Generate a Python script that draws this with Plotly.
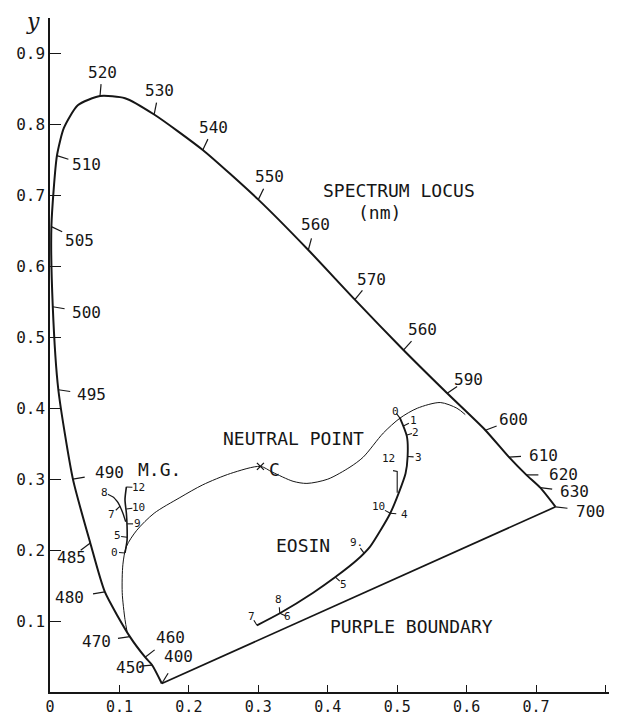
import numpy as np
import plotly.graph_objects as go

# Spectrum locus: chromaticity (x, y) at each wavelength, nm
locus_nm = [400, 450, 460, 470, 480, 485, 490, 495, 500, 505, 510, 513, 516, 520,
            525, 530, 540, 550, 560, 570, 580, 590, 600, 610, 620, 630, 700]
locus_x = [0.161, 0.147, 0.137, 0.115, 0.079, 0.058, 0.033, 0.012, 0.004, 0.002,
           0.010, 0.020, 0.040, 0.072, 0.108, 0.150, 0.220, 0.300, 0.372, 0.439,
           0.509, 0.572, 0.627, 0.661, 0.686, 0.706, 0.728]
locus_y = [0.012, 0.038, 0.049, 0.078, 0.141, 0.210, 0.300, 0.426, 0.543, 0.656,
           0.756, 0.795, 0.827, 0.840, 0.837, 0.814, 0.764, 0.694, 0.623, 0.553,
           0.482, 0.421, 0.369, 0.331, 0.306, 0.288, 0.261]

# Wavelengths marked on the locus and the figure printed beside each one
tick_nm = [400, 450, 460, 470, 480, 485, 490, 495, 500, 505, 510, 520, 530,
           540, 550, 560, 570, 580, 590, 600, 610, 620, 630, 700]
tick_text = ["400", "450", "460", "470", "480", "485", "490", "495", "500", "505",
             "510", "520", "530", "540", "550", "560", "570", "560", "590", "600",
             "610", "620", "630", "700"]

# Locus of neutral points, passing through illuminant C
neutral_x = [0.111, 0.108, 0.104, 0.105, 0.110, 0.125, 0.150, 0.187, 0.220, 0.260,
             0.303, 0.320, 0.350, 0.370, 0.400, 0.432, 0.451, 0.480, 0.504, 0.529,
             0.562, 0.586, 0.598]
neutral_y = [0.085, 0.102, 0.140, 0.180, 0.205, 0.228, 0.252, 0.274, 0.292, 0.308,
             0.318, 0.310, 0.297, 0.294, 0.300, 0.317, 0.331, 0.365, 0.386, 0.400,
             0.408, 0.400, 0.391]
illum_c = (0.303, 0.318)

# Eosin path
eosin_x = [0.504, 0.514, 0.515, 0.512, 0.502, 0.490, 0.476, 0.461, 0.442, 0.411,
           0.379, 0.331, 0.298]
eosin_y = [0.386, 0.360, 0.332, 0.308, 0.280, 0.252, 0.228, 0.205, 0.186, 0.162,
           0.140, 0.111, 0.094]
eosin_steps = ["0", "1", "2", "3", "10", "4", "9.", "5", "8", "6", "7"]
eosin_step_x = [0.504, 0.509, 0.513, 0.515, 0.490, 0.490, 0.452, 0.411, 0.331, 0.331, 0.298]
eosin_step_y = [0.386, 0.375, 0.362, 0.332, 0.252, 0.252, 0.196, 0.162, 0.111, 0.111, 0.094]
# step 12 sits at the end of a bracket that drops onto the path
eosin_12_x = [0.494, 0.500, 0.500]
eosin_12_y = [0.312, 0.311, 0.281]

# Malachite green (M.G.) path and its side branch
mg_x = [0.108, 0.111, 0.111, 0.110, 0.108, 0.110]
mg_y = [0.196, 0.214, 0.233, 0.252, 0.271, 0.289]
mg_branch_x = [0.091, 0.098, 0.105, 0.109]
mg_branch_y = [0.275, 0.267, 0.252, 0.240]
mg_steps = ["0", "5", "9", "10", "12", "7", "8"]
mg_step_x = [0.108, 0.111, 0.111, 0.110, 0.110, 0.101, 0.091]
mg_step_y = [0.196, 0.218, 0.237, 0.258, 0.289, 0.262, 0.275]

# ---- layout geometry ----
W, H = 618, 715
ML, MR, MT, MB = 50, 9, 18, 23
XR = [0, 0.805]
YR = [0, 0.95]
KX = (W - ML - MR) / (XR[1] - XR[0])
KY = (H - MT - MB) / (YR[1] - YR[0])

FONT = "DejaVu Sans Mono"
INK = "#161616"

# label placement for each wavelength mark
wl_label_pos = {
    400: (0.185, 0.050), 450: (0.116, 0.035), 460: (0.174, 0.077), 470: (0.067, 0.071),
    480: (0.028, 0.133), 485: (0.031, 0.190), 490: (0.086, 0.309), 495: (0.060, 0.419),
    500: (0.052, 0.535), 505: (0.042, 0.637), 510: (0.052, 0.743), 520: (0.075, 0.873),
    530: (0.157, 0.848), 540: (0.235, 0.795), 550: (0.316, 0.726), 560: (0.382, 0.659),
    570: (0.463, 0.582), 580: (0.536, 0.511), 590: (0.602, 0.441), 600: (0.668, 0.384),
    610: (0.710, 0.334), 620: (0.739, 0.306), 630: (0.756, 0.282), 700: (0.779, 0.255),
}
eosin_label_pos = [(0.497, 0.395), (0.524, 0.382), (0.527, 0.366), (0.530, 0.331),
                   (0.473, 0.261), (0.510, 0.250), (0.441, 0.211),
                   (0.423, 0.151), (0.329, 0.131), (0.342, 0.106), (0.290, 0.107)]
eosin_12_label = (0.487, 0.329)
mg_label_pos = [(0.093, 0.197), (0.097, 0.220), (0.126, 0.237), (0.128, 0.260),
                (0.128, 0.288), (0.088, 0.250), (0.079, 0.281)]


def tick_toward(p, q, length_px):
    """Short segment from p toward q, of given screen length."""
    dx = (q[0] - p[0]) * KX
    dy = (q[1] - p[1]) * KY
    n = np.hypot(dx, dy)
    if n == 0:
        return [p[0], p[0]], [p[1], p[1]]
    ex = p[0] + dx / n * length_px / KX
    ey = p[1] + dy / n * length_px / KY
    return [p[0], ex], [p[1], ey]


fig = go.Figure()

# spectrum locus
fig.add_trace(go.Scatter(x=locus_x, y=locus_y, mode="lines",
                         line=dict(color=INK, width=2, shape="spline", smoothing=0.6),
                         hoverinfo="skip", showlegend=False))
# purple boundary
fig.add_trace(go.Scatter(x=[locus_x[0], locus_x[-1]], y=[locus_y[0], locus_y[-1]],
                         mode="lines", line=dict(color=INK, width=1.7),
                         hoverinfo="skip", showlegend=False))
# neutral point locus
fig.add_trace(go.Scatter(x=neutral_x, y=neutral_y, mode="lines",
                         line=dict(color=INK, width=1, shape="spline", smoothing=0.8),
                         hoverinfo="skip", showlegend=False))
# eosin and M.G. paths
fig.add_trace(go.Scatter(x=eosin_x, y=eosin_y, mode="lines",
                         line=dict(color=INK, width=1.9, shape="spline", smoothing=0.7),
                         hoverinfo="skip", showlegend=False))
fig.add_trace(go.Scatter(x=eosin_12_x, y=eosin_12_y, mode="lines",
                         line=dict(color=INK, width=1.1),
                         hoverinfo="skip", showlegend=False))
fig.add_trace(go.Scatter(x=mg_x, y=mg_y, mode="lines",
                         line=dict(color=INK, width=1.6, shape="spline", smoothing=0.7),
                         hoverinfo="skip", showlegend=False))
fig.add_trace(go.Scatter(x=mg_branch_x, y=mg_branch_y, mode="lines",
                         line=dict(color=INK, width=1.4, shape="spline", smoothing=0.7),
                         hoverinfo="skip", showlegend=False))


# tick marks: one broken line trace per group
def add_ticks(px_list, py_list, labels_xy, length, width):
    xs, ys = [], []
    for p0, p1, q in zip(px_list, py_list, labels_xy):
        tx, ty = tick_toward((p0, p1), q, length)
        xs += tx + [None]
        ys += ty + [None]
    fig.add_trace(go.Scatter(x=xs, y=ys, mode="lines",
                             line=dict(color=INK, width=width),
                             hoverinfo="skip", showlegend=False))


wl_px = [locus_x[locus_nm.index(n)] for n in tick_nm]
wl_py = [locus_y[locus_nm.index(n)] for n in tick_nm]
add_ticks(wl_px, wl_py, [wl_label_pos[n] for n in tick_nm], 12, 1.2)
add_ticks(eosin_step_x, eosin_step_y, eosin_label_pos, 6, 1.1)
add_ticks(mg_step_x, mg_step_y, mg_label_pos, 6, 1.1)

annotations = []
for n, t in zip(tick_nm, tick_text):
    lx, ly = wl_label_pos[n]
    annotations.append(dict(x=lx, y=ly, text=t, showarrow=False,
                            font=dict(family=FONT, size=16, color=INK)))
small = dict(family=FONT, size=11, color=INK)
for t, (lx, ly) in zip(eosin_steps, eosin_label_pos):
    annotations.append(dict(x=lx, y=ly, text=t, showarrow=False, font=small))
annotations.append(dict(x=eosin_12_label[0], y=eosin_12_label[1], text="12",
                        showarrow=False, font=small))
for t, (lx, ly) in zip(mg_steps, mg_label_pos):
    annotations.append(dict(x=lx, y=ly, text=t, showarrow=False, font=small))

big = dict(family=FONT, size=18, color=INK)
annotations += [
    dict(x=0.503, y=0.707, text="SPECTRUM LOCUS", showarrow=False, font=big),
    dict(x=0.474, y=0.676, text="(nm)", showarrow=False, font=big),
    dict(x=0.350, y=0.358, text="NEUTRAL POINT", showarrow=False, font=big),
    dict(x=illum_c[0] + 0.020, y=illum_c[1] - 0.004, text="C", showarrow=False, font=big),
    dict(x=0.365, y=0.207, text="EOSIN", showarrow=False, font=big),
    dict(x=0.158, y=0.313, text="M.G.", showarrow=False, font=big),
    dict(x=0.520, y=0.092, text="PURPLE BOUNDARY", showarrow=False, font=big),
    dict(x=0, y=0.945, xshift=-17, text="<i>y</i>", showarrow=False,
         font=dict(family="DejaVu Serif", size=22, color=INK)),
    dict(x=0.797, y=-0.026, text="<i>x</i>", showarrow=False,
         font=dict(family="DejaVu Serif", size=22, color=INK)),
]

# cross marking illuminant C
fig.add_trace(go.Scatter(x=[illum_c[0]], y=[illum_c[1]], mode="markers",
                         marker=dict(symbol="x-thin", size=7, line=dict(color=INK, width=1.3)),
                         cliponaxis=False, hoverinfo="skip", showlegend=False))

x_ticks = [0, 0.1, 0.2, 0.3, 0.4, 0.5, 0.6, 0.7, 0.8]
x_tick_text = ["0", "0.1", "0.2", "0.3", "0.4", "0.5", "0.6", "0.7", ""]
y_ticks = [0.1, 0.2, 0.3, 0.4, 0.5, 0.6, 0.7, 0.8, 0.9]
y_tick_text = ["0.1", "0.2", "0.3", "0.4", "0.5", "0.6", "0.7", "0.8", "0.9"]

fig.update_layout(
    width=W, height=H,
    margin=dict(l=ML, r=MR, t=MT, b=MB),
    paper_bgcolor="white", plot_bgcolor="white",
    showlegend=False,
    annotations=annotations,
    xaxis=dict(range=XR, showgrid=False, zeroline=False, showline=True,
               linecolor=INK, linewidth=1.5, ticks="inside", ticklen=7,
               tickwidth=1.2, tickcolor=INK, tickvals=x_ticks, ticktext=x_tick_text,
               tickfont=dict(family=FONT, size=15, color=INK), automargin=False,
               fixedrange=True),
    yaxis=dict(range=YR, showgrid=False, zeroline=False, showline=True,
               linecolor=INK, linewidth=1.5, ticks="inside", ticklen=11,
               tickwidth=1.2, tickcolor=INK, tickvals=y_ticks, ticktext=y_tick_text,
               tickfont=dict(family=FONT, size=16, color=INK), automargin=False,
               fixedrange=True),
)

fig.write_html("out.html")
